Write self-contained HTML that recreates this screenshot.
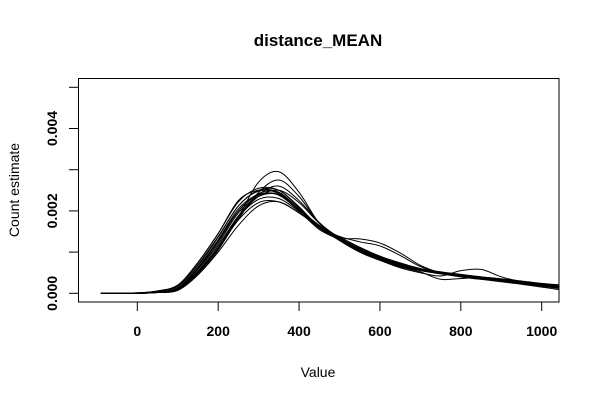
<!DOCTYPE html>
<html><head><meta charset="utf-8"><style>
body{margin:0;background:#fff;}
svg{display:block;font-family:"Liberation Sans",Arial,sans-serif;}
</style></head><body>
<svg id="chart" width="600" height="400" viewBox="0 0 600 400">
<rect width="600" height="400" fill="#fff"/>
<text x="318" y="46" text-anchor="middle" font-size="17" font-weight="bold">distance_MEAN</text>
<text x="318" y="377" text-anchor="middle" font-size="14">Value</text>
<text transform="translate(19,190) rotate(-90)" text-anchor="middle" font-size="14">Count estimate</text>
<defs><clipPath id="plotclip"><rect x="78.5" y="78.5" width="480.5" height="223.5"/></clipPath></defs>
<g id="curves" clip-path="url(#plotclip)"></g>
<g id="axes"></g>
<rect x="78.5" y="78.5" width="480.5" height="223.5" fill="none" stroke="#000" stroke-width="1"/>
</svg>
<script>
const xGrid=[-90,0,50,100,150,200,250,300,350,400,450,500,550,600,650,700,750,800,850,900,950,1000,1050];
const xTicks=[0,200,400,600,800,1000];
const xTickLabels=["0","200","400","600","800","1000"];
const yTicks=[0,0.001,0.002,0.003,0.004,0.005];
const yTickLabels=["0.000","","0.002","","0.004",""];
// density values in units of 0.001
const curve1=[0,0,0.03,0.12,0.6,1.25,2.0,2.42,2.45,2.05,1.65,1.35,1.05,0.85,0.7,0.58,0.5,0.42,0.37,0.31,0.25,0.2,0.15];
const curve2=[0,0,0.02,0.08,0.45,1.05,1.85,2.7,2.95,2.45,1.7,1.3,1.1,0.9,0.72,0.58,0.5,0.45,0.38,0.3,0.24,0.18,0.12];
const curve3=[0,0,0.03,0.1,0.5,1.1,1.8,2.45,2.75,2.35,1.7,1.32,1.08,0.88,0.7,0.58,0.5,0.44,0.37,0.3,0.24,0.19,0.14];
const curve4=[0,0.01,0.06,0.2,0.75,1.45,2.25,2.5,2.45,2.0,1.55,1.3,1.02,0.82,0.66,0.56,0.48,0.42,0.36,0.31,0.26,0.21,0.16];
const curve5=[0,0,0.02,0.07,0.45,1.0,1.65,2.12,2.22,1.95,1.62,1.35,1.32,1.22,0.98,0.68,0.5,0.42,0.36,0.3,0.24,0.18,0.12];
const curve6=[0,0,0.03,0.12,0.62,1.3,2.05,2.4,2.38,2.0,1.6,1.38,1.25,1.15,0.92,0.65,0.5,0.4,0.34,0.3,0.25,0.2,0.15];
const curve7=[0,0,0.03,0.11,0.58,1.2,1.95,2.35,2.4,2.05,1.6,1.3,1.0,0.8,0.62,0.5,0.42,0.55,0.58,0.4,0.28,0.2,0.14];
const curve8=[0,0.01,0.05,0.17,0.7,1.38,2.12,2.5,2.5,2.08,1.62,1.28,1.0,0.8,0.64,0.52,0.34,0.36,0.38,0.33,0.27,0.22,0.16];
const curve9=[0,0,0.02,0.08,0.5,1.1,1.85,2.28,2.3,1.98,1.62,1.37,1.12,0.9,0.72,0.6,0.52,0.45,0.4,0.35,0.3,0.24,0.2];
const curve10=[0,0.01,0.05,0.18,0.75,1.45,2.22,2.55,2.5,2.1,1.6,1.3,1.02,0.82,0.66,0.55,0.47,0.4,0.34,0.28,0.22,0.15,0.08];
const curve11=[0,0,0.02,0.09,0.52,1.1,1.85,2.35,2.5,2.2,1.7,1.35,1.08,0.88,0.72,0.6,0.52,0.46,0.4,0.35,0.29,0.23,0.18];
const curve12=[0,0,0.03,0.12,0.6,1.28,2.0,2.38,2.4,2.02,1.62,1.33,1.06,0.86,0.7,0.58,0.5,0.43,0.37,0.32,0.27,0.22,0.17];
const curve13=[0,0,0.02,0.08,0.48,1.08,1.78,2.2,2.22,1.95,1.6,1.34,1.1,0.9,0.74,0.6,0.5,0.43,0.37,0.31,0.25,0.2,0.16];
const curve14=[0,0.01,0.04,0.14,0.66,1.36,2.12,2.48,2.42,2.0,1.58,1.3,1.04,0.84,0.68,0.57,0.49,0.41,0.35,0.29,0.23,0.17,0.11];
const curve15=[0,0,0.03,0.1,0.54,1.15,1.88,2.4,2.6,2.25,1.72,1.33,1.06,0.86,0.7,0.58,0.5,0.44,0.39,0.33,0.27,0.21,0.16];
const curves=[curve1,curve2,curve3,curve4,curve5,curve6,curve7,curve8,curve9,curve10,curve11,curve12,curve13,curve14,curve15];

const NS="http://www.w3.org/2000/svg";
function xs(v){return 137.3+(v-0)*(541.7-137.3)/1000;}
function ys(v){return 293.3-v*41.2/0.001;}
function pathFor(arr){
  const p=arr.map((v,i)=>[xs(xGrid[i]),ys(v*0.001)]);
  let d="M"+p[0][0].toFixed(2)+","+p[0][1].toFixed(2);
  for(let i=0;i<p.length-1;i++){
    const p0=p[Math.max(0,i-1)],p1=p[i],p2=p[i+1],p3=p[Math.min(p.length-1,i+2)];
    const c1x=p1[0]+(p2[0]-p0[0])/6,c1y=p1[1]+(p2[1]-p0[1])/6;
    const c2x=p2[0]-(p3[0]-p1[0])/6,c2y=p2[1]-(p3[1]-p1[1])/6;
    d+=" C"+c1x.toFixed(2)+","+Math.min(c1y,293.3).toFixed(2)+" "+c2x.toFixed(2)+","+Math.min(c2y,293.3).toFixed(2)+" "+p2[0].toFixed(2)+","+p2[1].toFixed(2);
  }
  return d;
}
const g=document.getElementById("curves");
curves.forEach((c,i)=>{
  const el=document.createElementNS(NS,"path");
  el.setAttribute("d",pathFor(c));
  el.setAttribute("fill","none");
  el.setAttribute("stroke","#000");
  el.setAttribute("stroke-width","1");
  
  
  g.appendChild(el);
});
const ax=document.getElementById("axes");
xTicks.forEach((t,i)=>{
  const l=document.createElementNS(NS,"line");
  l.setAttribute("x1",xs(t));l.setAttribute("x2",xs(t));
  l.setAttribute("y1",302);l.setAttribute("y2",311);
  l.setAttribute("stroke","#000");
  
  
  ax.appendChild(l);
  const tx=document.createElementNS(NS,"text");
  tx.setAttribute("x",xs(t));tx.setAttribute("y",336);
  tx.setAttribute("text-anchor","middle");tx.setAttribute("font-size","14");
  tx.setAttribute("font-weight","bold");
  tx.textContent=xTickLabels[i];
  
  
  ax.appendChild(tx);
});
yTicks.forEach((t,i)=>{
  const l=document.createElementNS(NS,"line");
  l.setAttribute("x1",69);l.setAttribute("x2",78.5);
  l.setAttribute("y1",ys(t));l.setAttribute("y2",ys(t));
  l.setAttribute("stroke","#000");
  
  
  ax.appendChild(l);
  if(yTickLabels[i]){
    const tx=document.createElementNS(NS,"text");
    tx.setAttribute("transform","translate(57,"+ys(t)+") rotate(-90)");
    tx.setAttribute("text-anchor","middle");tx.setAttribute("font-size","14");
    tx.setAttribute("font-weight","bold");
    tx.textContent=yTickLabels[i];
    
    
    ax.appendChild(tx);
  }
});
</script>
</body></html>
